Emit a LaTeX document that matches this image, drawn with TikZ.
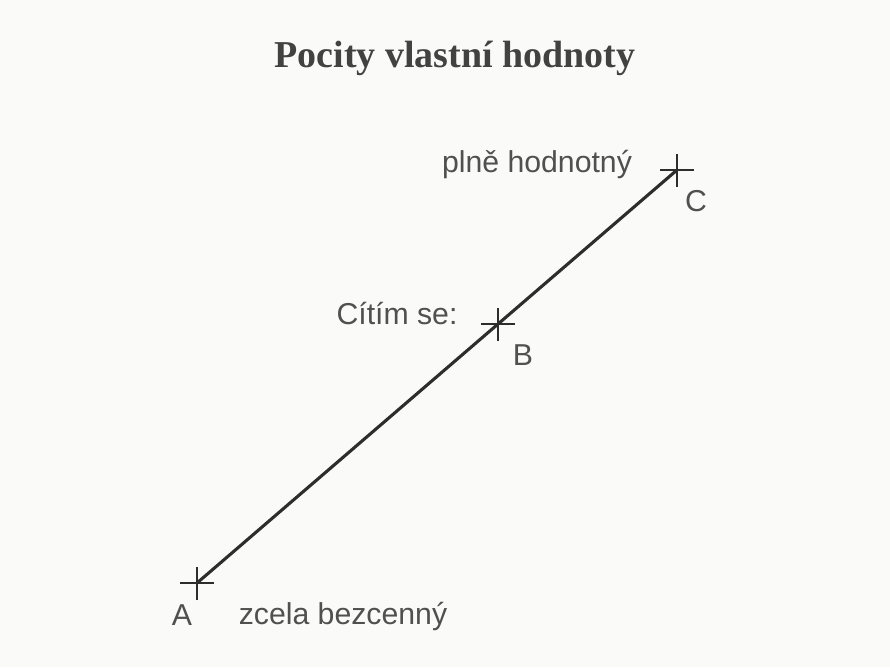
\documentclass[tikz,border=0pt]{standalone}
\usepackage{fontspec}
\setmainfont{Liberation Serif}
\newfontfamily\labelfont{Liberation Sans}

\definecolor{paper}{RGB}{250,250,248}
\definecolor{ink}{RGB}{45,45,45}
\definecolor{labelgray}{RGB}{80,80,80}

\tikzset{
  scaleline/.style={ink, line width=2.2pt},
  crossmark/.style={ink, line width=1.9pt},
  pointlabel/.style={text=labelgray, font=\labelfont\fontsize{21.5}{24}\selectfont, inner sep=0pt},
}

\begin{document}
\begin{tikzpicture}[x=0.025cm, y=-0.025cm]
	% plocha
	\fill[paper] (0,0) rectangle (890,667);
	\useasboundingbox (0,0) rectangle (890,667);

	% nadpis
	\node[text=ink!90, font=\bfseries\fontsize{27}{31}\selectfont, inner sep=0pt] (title) at (455,58) {Pocity vlastní hodnoty};

	% body na škále
	\coordinate (A) at (197,583);
	\coordinate (B) at (498,324);
	\coordinate (C) at (677,170);

	% škála
	\draw[scaleline] (A) -- (C);

	% křížky
	\foreach \p in {A,B,C}
		\draw[crossmark] (\p) ++(-17,0) -- ++(34,0) (\p) ++(0,-16) -- ++(0,33);

	% popisky
	\node[pointlabel] (labA) at (182,615) {A};
	\node[pointlabel] (labB) at (523,355) {B};
	\node[pointlabel] (labC) at (696,201) {C};
	\node[pointlabel] (low) at (343,616) {zcela bezcenný};
	\node[pointlabel] (mid) at (397,314) {Cítím se:};
	\node[pointlabel] (high) at (537,164) {plně hodnotný};
\end{tikzpicture}
\end{document}
